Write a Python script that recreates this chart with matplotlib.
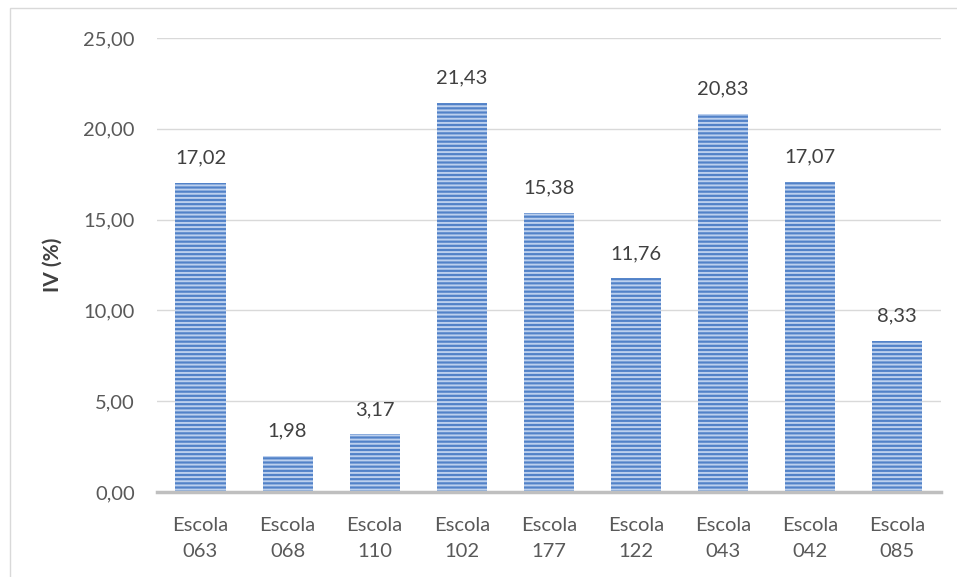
import matplotlib
matplotlib.use("Agg")
import matplotlib.pyplot as plt
from matplotlib.patches import Rectangle

escolas = ["063", "068", "110", "102", "177", "122", "043", "042", "085"]
iv = [17.02, 1.98, 3.17, 21.43, 15.38, 11.76, 20.83, 17.07, 8.33]
yticks = [0, 5, 10, 15, 20, 25]

def br(v):
    return f"{v:.2f}".replace(".", ",")

plt.rcParams["font.family"] = ["Lato", "DejaVu Sans"]
plt.rcParams["hatch.linewidth"] = 1.4

fig = plt.figure(figsize=(9.57, 5.77), dpi=100)
ax = fig.add_axes([0.164, 0.1473, 0.819, 0.7867])

labels = ["Escola\n" + e for e in escolas]
x = range(len(escolas))
bars = ax.bar(x, iv, width=0.575, color="#5282c8", edgecolor="#bcd0ee",
              linewidth=0, hatch="----", zorder=3)

for rect, v in zip(bars, iv):
    ax.annotate(br(v), (rect.get_x() + rect.get_width() / 2, v),
                xytext=(0, 18), textcoords="offset points",
                ha="center", va="center", fontsize=14.5, color="#404040")

ax.set_xlim(-0.5, len(escolas) - 0.5)
ax.set_ylim(0, 25)
ax.set_yticks(yticks)
ax.set_yticklabels([br(t) for t in yticks])
ax.set_xticks(list(x))
ax.set_xticklabels(labels, linespacing=1.65)
ax.tick_params(axis="y", length=0, pad=16, labelsize=14.5, labelcolor="#595959")
ax.tick_params(axis="x", length=0, pad=18, labelsize=14.5, labelcolor="#595959")

ax.grid(axis="y", color="#d9d9d9", linewidth=1, zorder=0)
for s in ["top", "right", "left"]:
    ax.spines[s].set_visible(False)
ax.spines["bottom"].set_color("#bfbfbf")
ax.spines["bottom"].set_linewidth(2.5)
ax.spines["bottom"].set_zorder(4)

ax.set_ylabel("IV (%)", fontsize=15, fontweight="bold", color="#404040")
ax.yaxis.set_label_coords(-0.12, 0.5)

# chart area border
fig.patches.append(Rectangle((10 / 957, -0.05), 1.0, 1 - 8 / 577 + 0.05,
                             transform=fig.transFigure, fill=False,
                             edgecolor="#d9d9d9", linewidth=1))

fig.savefig("out.png", dpi=100)
